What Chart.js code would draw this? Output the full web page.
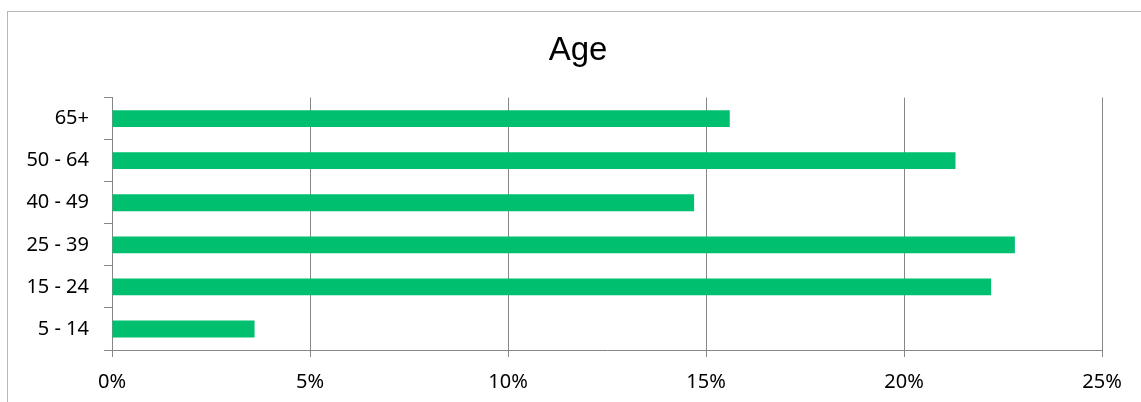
<!DOCTYPE html>
<html>
<head>
<meta charset="utf-8">
<script src="https://cdn.jsdelivr.net/npm/chart.js@4/dist/chart.umd.min.js"></script>
<style>
    html, body { margin: 0; padding: 0; background: #fff; overflow: hidden; }
    #frame {
        position: absolute;
        left: 7px;
        top: 11px;
        width: 1180px;
        height: 420px;
        border: 1px solid #b8b8b8;
    }
</style>
</head>
<body>
<div id="frame"><canvas id="chart" width="1140" height="400"></canvas></div>
<script>
// 年齢区分と割合（%）
const ageLabels = ['65+', '50 - 64', '40 - 49', '25 - 39', '15 - 24', '5 - 14'];
const ageValues = [15.6, 21.3, 14.7, 22.8, 22.2, 3.6];
const xTicks = [0, 5, 10, 15, 20, 25];

const gridColor = '#868686';

// y軸ラベルが左の余白にはみ出しても切れないようにする
const wideLabelArea = {
    id: 'wideLabelArea',
    afterLayout: function (chart) {
        chart.scales.y.left = 0;
    }
};

const ctx = document.getElementById('chart');
const chart = new Chart(ctx, {
    type: 'bar',
    data: {
        labels: ageLabels,
        datasets: [
            {
                label: 'Age',
                data: ageValues,
                backgroundColor: '#00BF6F',
                borderWidth: 0
            }
        ]
    },
    options: {
        responsive: false,
        animation: false,
        indexAxis: 'y',
        barPercentage: 0.4,
        categoryPercentage: 1.0,
        plugins: {
            legend: {
                display: false
            },
            tooltip: {
                enabled: false
            },
            title: {
                display: true,
                text: 'Age',
                font: {
                    family: '"Liberation Sans", Arial, sans-serif',
                    size: 33,
                    weight: 'normal'
                },
                color: '#000',
                padding: {
                    top: 19,
                    bottom: 27
                }
            }
        },
        scales: {
            x: {
                min: 0,
                max: 25,
                afterBuildTicks: function (scale) {
                    scale.ticks = xTicks.map(v => ({ value: v }));
                },
                ticks: {
                    callback: function (value) {
                        return value + '%';
                    },
                    font: {
                        family: '"Noto Sans", sans-serif',
                        size: 20
                    },
                    color: '#000',
                    padding: 13,
                    maxRotation: 0
                },
                grid: {
                    color: gridColor,
                    lineWidth: 1,
                    tickLength: 7
                },
                border: {
                    color: gridColor
                }
            },
            y: {
                // タイトルを全体の中央に置くため軸幅は狭くする
                afterFit: function (scale) {
                    scale.width = 58;
                },
                ticks: {
                    font: {
                        family: '"Noto Sans", sans-serif',
                        size: 20
                    },
                    color: '#000',
                    padding: 15
                },
                grid: {
                    offset: true,
                    drawOnChartArea: false,
                    color: gridColor,
                    tickLength: 8
                },
                border: {
                    color: gridColor
                }
            }
        },
        layout: {
            padding: {
                top: 0,
                bottom: 5,
                left: 46,
                right: 46
            }
        }
    },
    plugins: [wideLabelArea]
});
</script>
</body>
</html>
